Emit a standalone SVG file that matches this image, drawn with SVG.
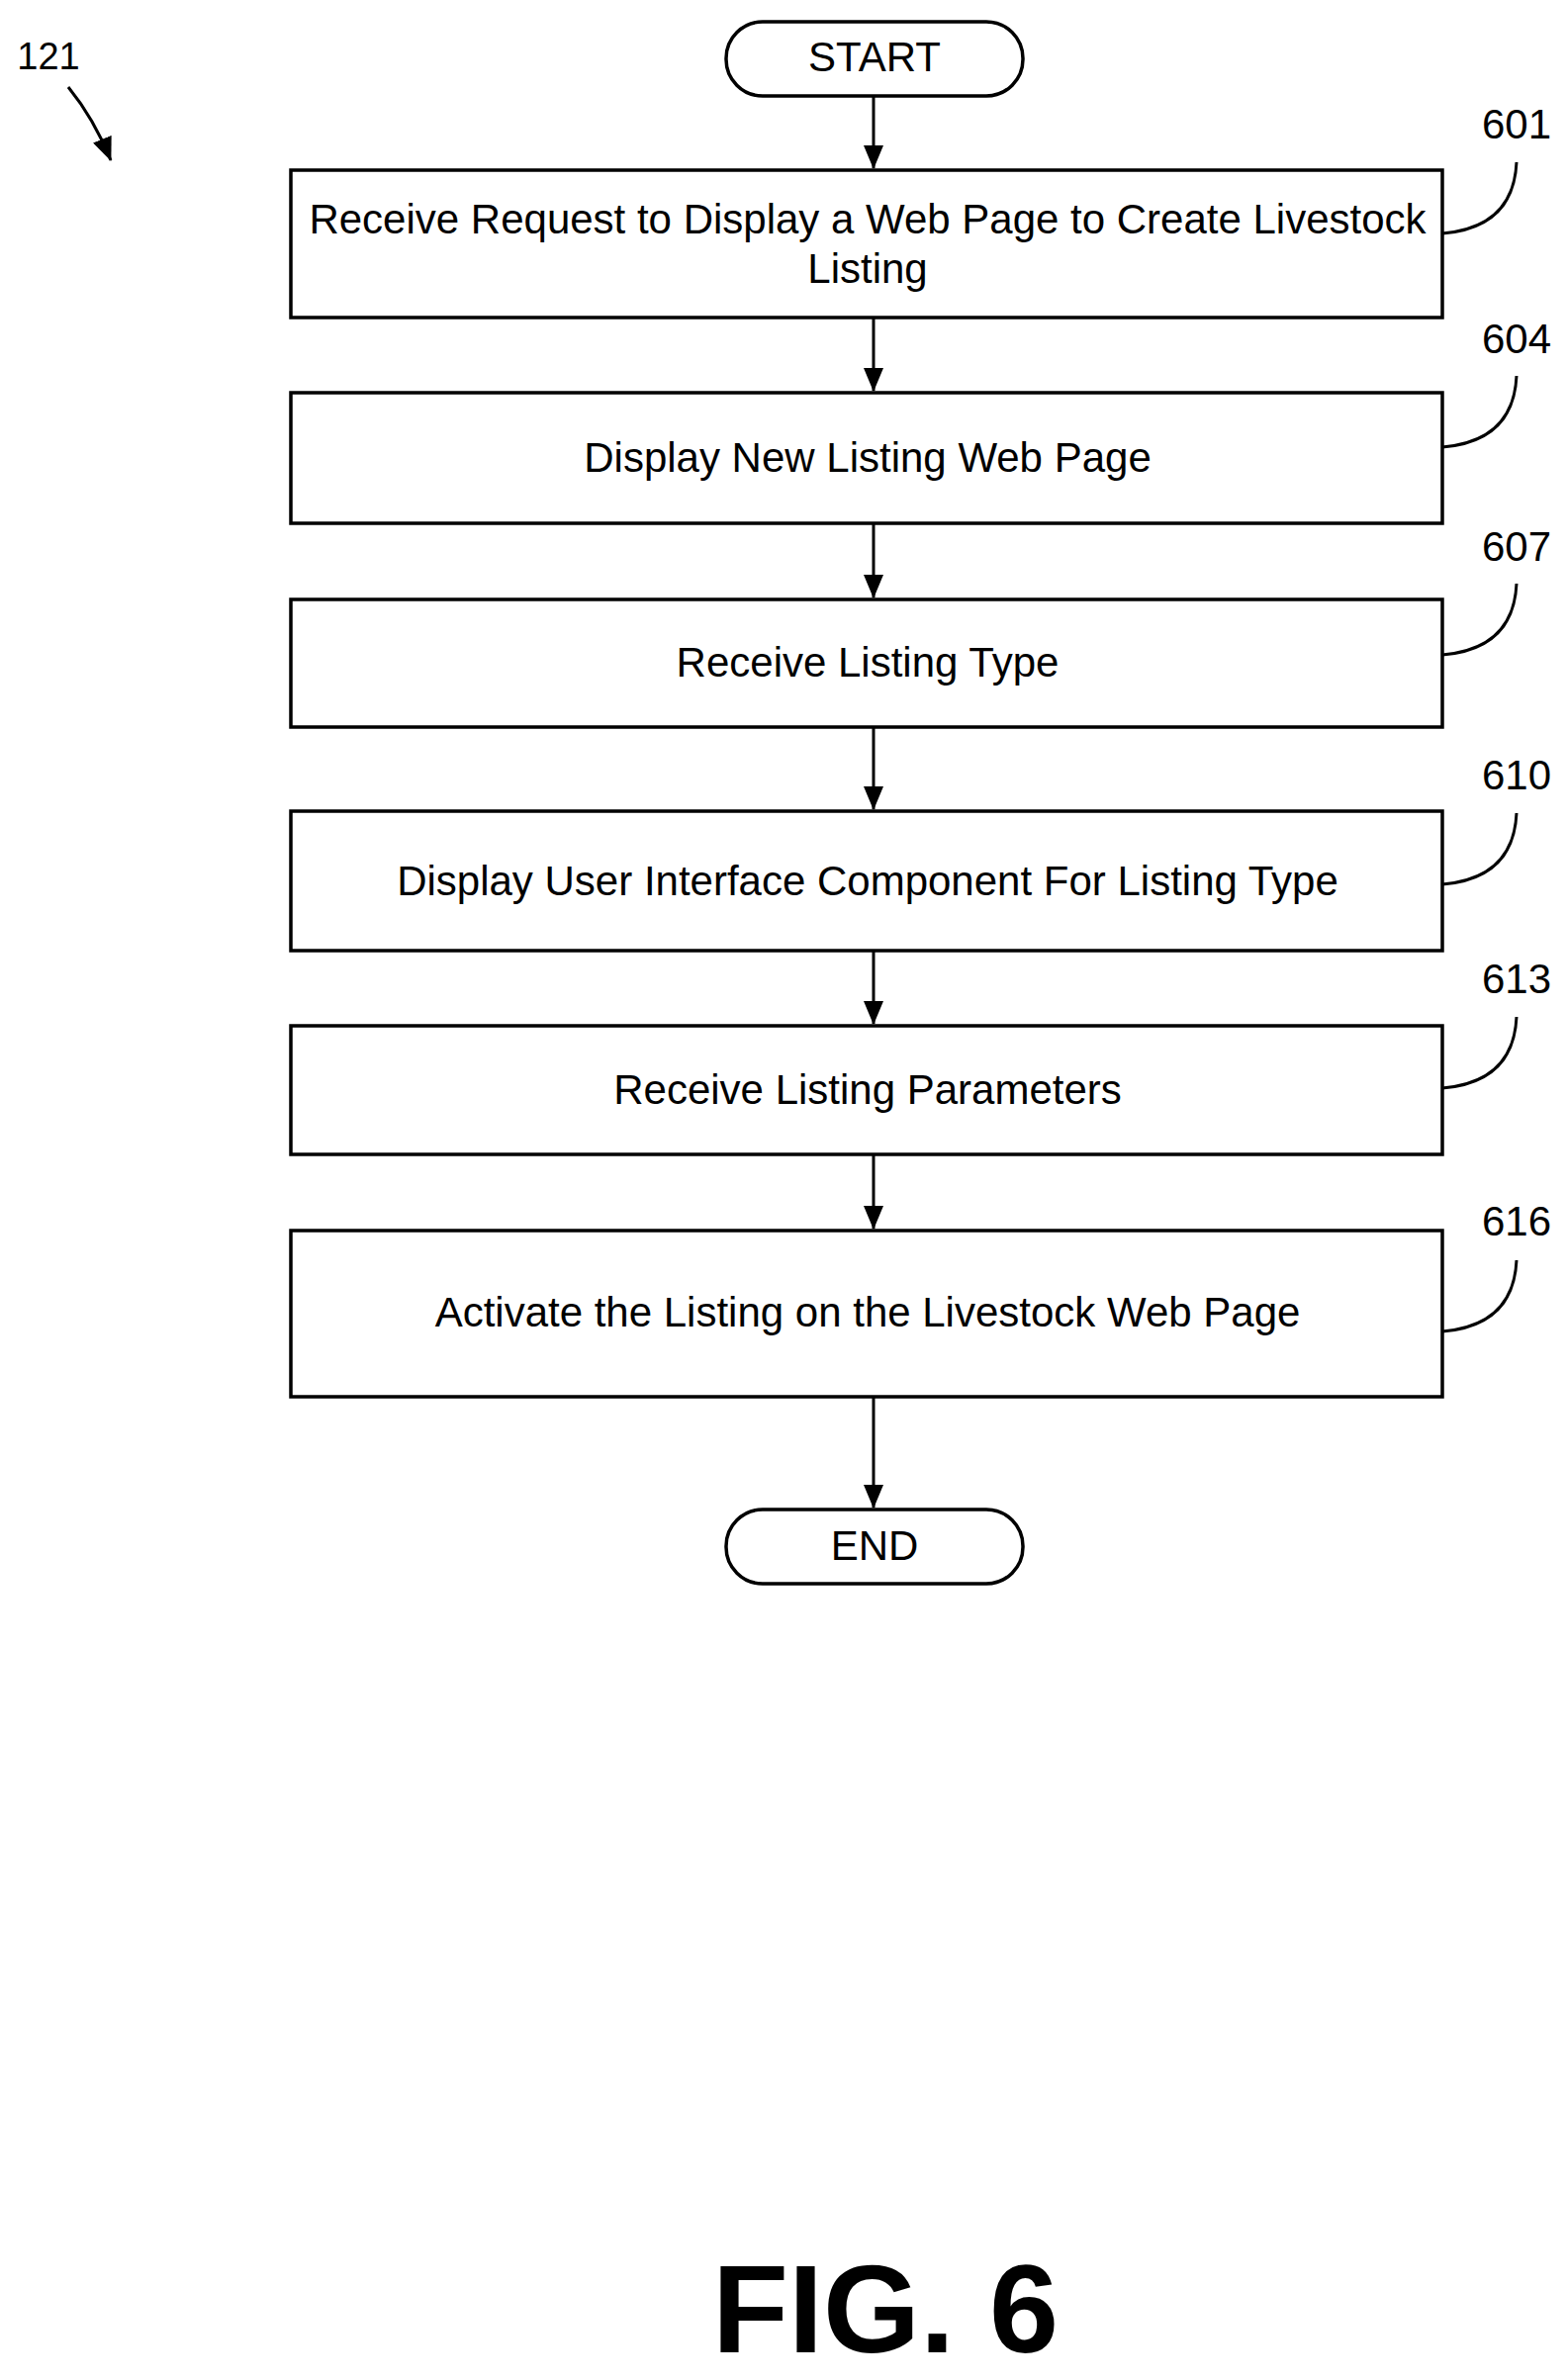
<svg xmlns="http://www.w3.org/2000/svg" width="1584" height="2406" viewBox="0 0 1584 2406">
<style>
.b{fill:#fff;stroke:#000;stroke-width:3.5}
.t{font-family:"Liberation Sans",Arial,sans-serif;font-size:42px;text-anchor:middle;fill:#000}
.c{fill:none;stroke:#000;stroke-width:3}
</style>
<defs><marker id="a" markerWidth="24" markerHeight="20" refX="23" refY="10" orient="auto" markerUnits="userSpaceOnUse"><path d="M0,0 L24,10 L0,20 Z" fill="#000"/></marker></defs>
<rect width="1584" height="2406" fill="#fff"/>
<g id="ref121"><text x="49" y="70" class="t" style="font-size:38px">121</text><path class="c" d="M69,88 Q95,120 112,162" marker-end="url(#a)"/></g>
<g id="start"><rect class="b" x="734" y="22" width="300" height="75" rx="37"/><text class="t" x="884" y="72">START</text></g>
<g id="n601"><rect class="b" x="294" y="172" width="1164" height="149"/><text class="t" x="877" y="236">Receive Request to Display a Web Page to Create Livestock</text><text class="t" x="877" y="286">Listing</text></g>
<g id="n604"><rect class="b" x="294" y="397" width="1164" height="132"/><text class="t" x="877" y="477">Display New Listing Web Page</text></g>
<g id="n607"><rect class="b" x="294" y="606" width="1164" height="129"/><text class="t" x="877" y="684">Receive Listing Type</text></g>
<g id="n610"><rect class="b" x="294" y="820" width="1164" height="141"/><text class="t" x="877" y="905">Display User Interface Component For Listing Type</text></g>
<g id="n613"><rect class="b" x="294" y="1037" width="1164" height="130"/><text class="t" x="877" y="1116">Receive Listing Parameters</text></g>
<g id="n616"><rect class="b" x="294" y="1244" width="1164" height="168"/><text class="t" x="877" y="1341">Activate the Listing on the Livestock Web Page</text></g>
<g id="end"><rect class="b" x="734" y="1526" width="300" height="75" rx="37"/><text class="t" x="884" y="1577">END</text></g>
<g id="labels">
<text class="t" x="1533" y="140">601</text><path class="c" d="M1458,236 Q1530,230 1533,164"/>
<text class="t" x="1533" y="357">604</text><path class="c" d="M1458,452 Q1530,446 1533,380"/>
<text class="t" x="1533" y="567">607</text><path class="c" d="M1458,662 Q1530,656 1533,590"/>
<text class="t" x="1533" y="798">610</text><path class="c" d="M1458,894 Q1530,888 1533,822"/>
<text class="t" x="1533" y="1004">613</text><path class="c" d="M1458,1100 Q1530,1094 1533,1028"/>
<text class="t" x="1533" y="1249">616</text><path class="c" d="M1458,1346 Q1530,1340 1533,1274"/>
</g>
<g id="connectors">
<path class="c" d="M883,97 V170" marker-end="url(#a)"/>
<path class="c" d="M883,321 V395" marker-end="url(#a)"/>
<path class="c" d="M883,529 V604" marker-end="url(#a)"/>
<path class="c" d="M883,735 V818" marker-end="url(#a)"/>
<path class="c" d="M883,961 V1035" marker-end="url(#a)"/>
<path class="c" d="M883,1167 V1242" marker-end="url(#a)"/>
<path class="c" d="M883,1412 V1524" marker-end="url(#a)"/>
</g>
<text x="895" y="2378" style="font-family:'Liberation Sans',Arial,sans-serif;font-size:126px;font-weight:bold;text-anchor:middle">FIG. 6</text>
</svg>
